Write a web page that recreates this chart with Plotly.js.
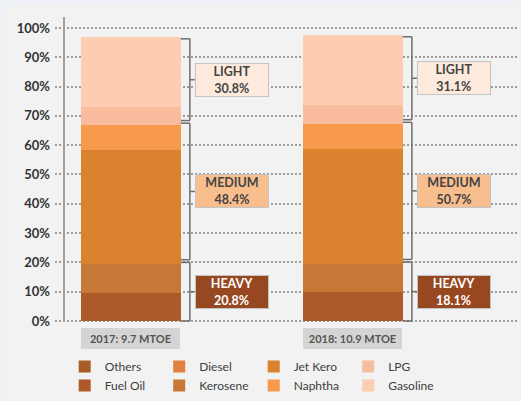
<!DOCTYPE html>
<html>
<head>
<meta charset="utf-8">
<script src="https://cdn.plot.ly/plotly-3.0.1.min.js"></script>
<style>
  html, body { margin: 0; padding: 0; background: #eef2f7; overflow: hidden; }
  #card { position: absolute; left: 4px; top: 3px; width: 540px; height: 420px; border-radius: 16px; background: #f1f2f1; }
  #chart { position: absolute; left: 0; top: 0; width: 521px; height: 401px; }
</style>
</head>
<body>
<div id="card"></div>
<div id="chart"></div>
<script>
// values (share of total, %)
const categories = ['2017: 9.7 MTOE', '2018: 10.9 MTOE'];
const others = [0, 0];
const fuelOil = [9.7, 9.9];
const kerosene = [9.7, 9.6];
const diesel = [0, 0];
const jetKero = [39.0, 39.2];
const naphtha = [8.5, 8.5];
const lpg = [6.1, 6.5];
const gasoline = [23.9, 23.9];

const groupNames = ['HEAVY', 'MEDIUM', 'LIGHT'];
const groupShare2017 = [20.8, 48.4, 30.8];
const groupShare2018 = [18.1, 50.7, 31.1];

// stacking order bottom -> top, legend rank gives the 4x2 layout
const series = [
  { name: 'Fuel Oil', y: fuelOil, color: '#ad5a2a', rank: 5, group: 0 },
  { name: 'Kerosene', y: kerosene, color: '#c67836', rank: 6, group: 0 },
  { name: 'Others', y: others, color: '#a85c28', rank: 1, group: 0 },
  { name: 'Jet Kero', y: jetKero, color: '#da822e', rank: 3, group: 1 },
  { name: 'Naphtha', y: naphtha, color: '#f79a4e', rank: 7, group: 1 },
  { name: 'Diesel', y: diesel, color: '#e08040', rank: 2, group: 1 },
  { name: 'LPG', y: lpg, color: '#f9bc9e', rank: 4, group: 2 },
  { name: 'Gasoline', y: gasoline, color: '#fccdb0', rank: 8, group: 2 },
];

const traces = series.map((s) => ({
  type: 'bar',
  name: s.name,
  x: categories,
  y: s.y,
  width: 0.45,
  legendrank: s.rank,
  marker: { color: s.color, line: { width: 0 } },
  hovertemplate: s.name + ': %{y:.1f}%<extra></extra>',
}));

const boxFill = ['#984820', '#f9be8e', '#fdeadc'];
const boxText = ['#ffffff', '#444444', '#444444'];
const bracketColor = '#6e6e6e';

const shapes = [{
  type: 'line', xref: 'x', yref: 'paper', x0: -0.3015, x1: -0.3015, y0: 0.012, y1: 1,
  line: { color: '#a0a0a0', width: 2 },
}];
const annotations = [];

categories.forEach((cat, i) => {
  const shares = i === 0 ? groupShare2017 : groupShare2018;
  // cumulative top of each group from the stacked series
  const tops = [0, 0, 0];
  series.forEach((s) => { tops[s.group] += s.y[i]; });
  const hTop = tops[0];
  const mTop = hTop + tops[1];
  const lTop = mTop + tops[2];
  const spans = [[0, hTop + 0.6], [hTop + 1.5, mTop + 0.6], [mTop + 1.5, lTop - 0.6]];
  const edge = i + 0.225;

  spans.forEach(([lo, hi], g) => {
    const mid = (lo + hi) / 2;
    const common = { type: 'line', xref: 'x', yref: 'y', xsizemode: 'pixel', xanchor: edge, line: { color: bracketColor, width: 1.5 } };
    shapes.push({ ...common, x0: 9, x1: 9, y0: lo, y1: hi });
    shapes.push({ ...common, x0: 0, x1: 9, y0: lo, y1: lo });
    shapes.push({ ...common, x0: 0, x1: 9, y0: hi, y1: hi });
    shapes.push({ ...common, x0: 9, x1: 14, y0: mid, y1: mid });
    annotations.push({
      x: edge, y: mid, xref: 'x', yref: 'y', xanchor: 'left', yanchor: 'middle', xshift: 14,
      text: '<b>' + groupNames[g] + '<br>' + shares[g].toFixed(1) + '%</b>',
      showarrow: false, align: 'center', width: 70, height: 30,
      bgcolor: boxFill[g], bordercolor: '#c4c4c4', borderwidth: 1, borderpad: 1,
      font: { family: 'Lato, sans-serif', size: 12.5, color: boxText[g] },
    });
  });

  annotations.push({
    x: i, y: 0, xref: 'x', yref: 'y', xanchor: 'center', yanchor: 'top', yshift: -7,
    text: '<b>' + cat + '</b>', showarrow: false, width: 97, height: 19,
    bgcolor: '#d4d4d4', borderpad: 1, borderwidth: 0,
    font: { family: 'Lato, sans-serif', size: 11, color: '#555555' },
  });
});

const layout = {
  width: 521,
  height: 401,
  paper_bgcolor: 'rgba(0,0,0,0)',
  plot_bgcolor: 'rgba(0,0,0,0)',
  margin: { l: 55, r: 4, t: 17, b: 76, autoexpand: false },
  barmode: 'stack',
  bargap: 0,
  showlegend: true,
  font: { family: 'Lato, sans-serif', color: '#404040' },
  xaxis: {
    type: 'category',
    categoryarray: categories,
    range: [-0.342, 1.739],
    showticklabels: false,
    showgrid: false,
    zeroline: false,
    showline: false,
    fixedrange: true,
  },
  yaxis: {
    range: [-1.37, 103.75],
    tick0: 0,
    dtick: 10,
    ticksuffix: '%',
    showgrid: true,
    gridcolor: '#9c9c9c',
    gridwidth: 1.5,
    griddash: '1.5px,2.5px',
    zeroline: false,
    showline: false,
    ticks: '',
    ticklabelstandoff: 4,
    tickfont: { family: 'Lato, sans-serif', size: 13, color: '#333333', weight: 'bold' },
    fixedrange: true,
  },
  legend: {
    orientation: 'h',
    traceorder: 'normal',
    x: 0.021,
    xanchor: 'left',
    y: -0.088,
    yanchor: 'top',
    entrywidth: 49.5,
    tracegroupgap: 0,
    bgcolor: 'rgba(0,0,0,0)',
    font: { family: 'Lato, sans-serif', size: 12, color: '#404040' },
  },
  shapes,
  annotations,
};

Plotly.newPlot('chart', traces, layout, { displayModeBar: false });
</script>
</body>
</html>
